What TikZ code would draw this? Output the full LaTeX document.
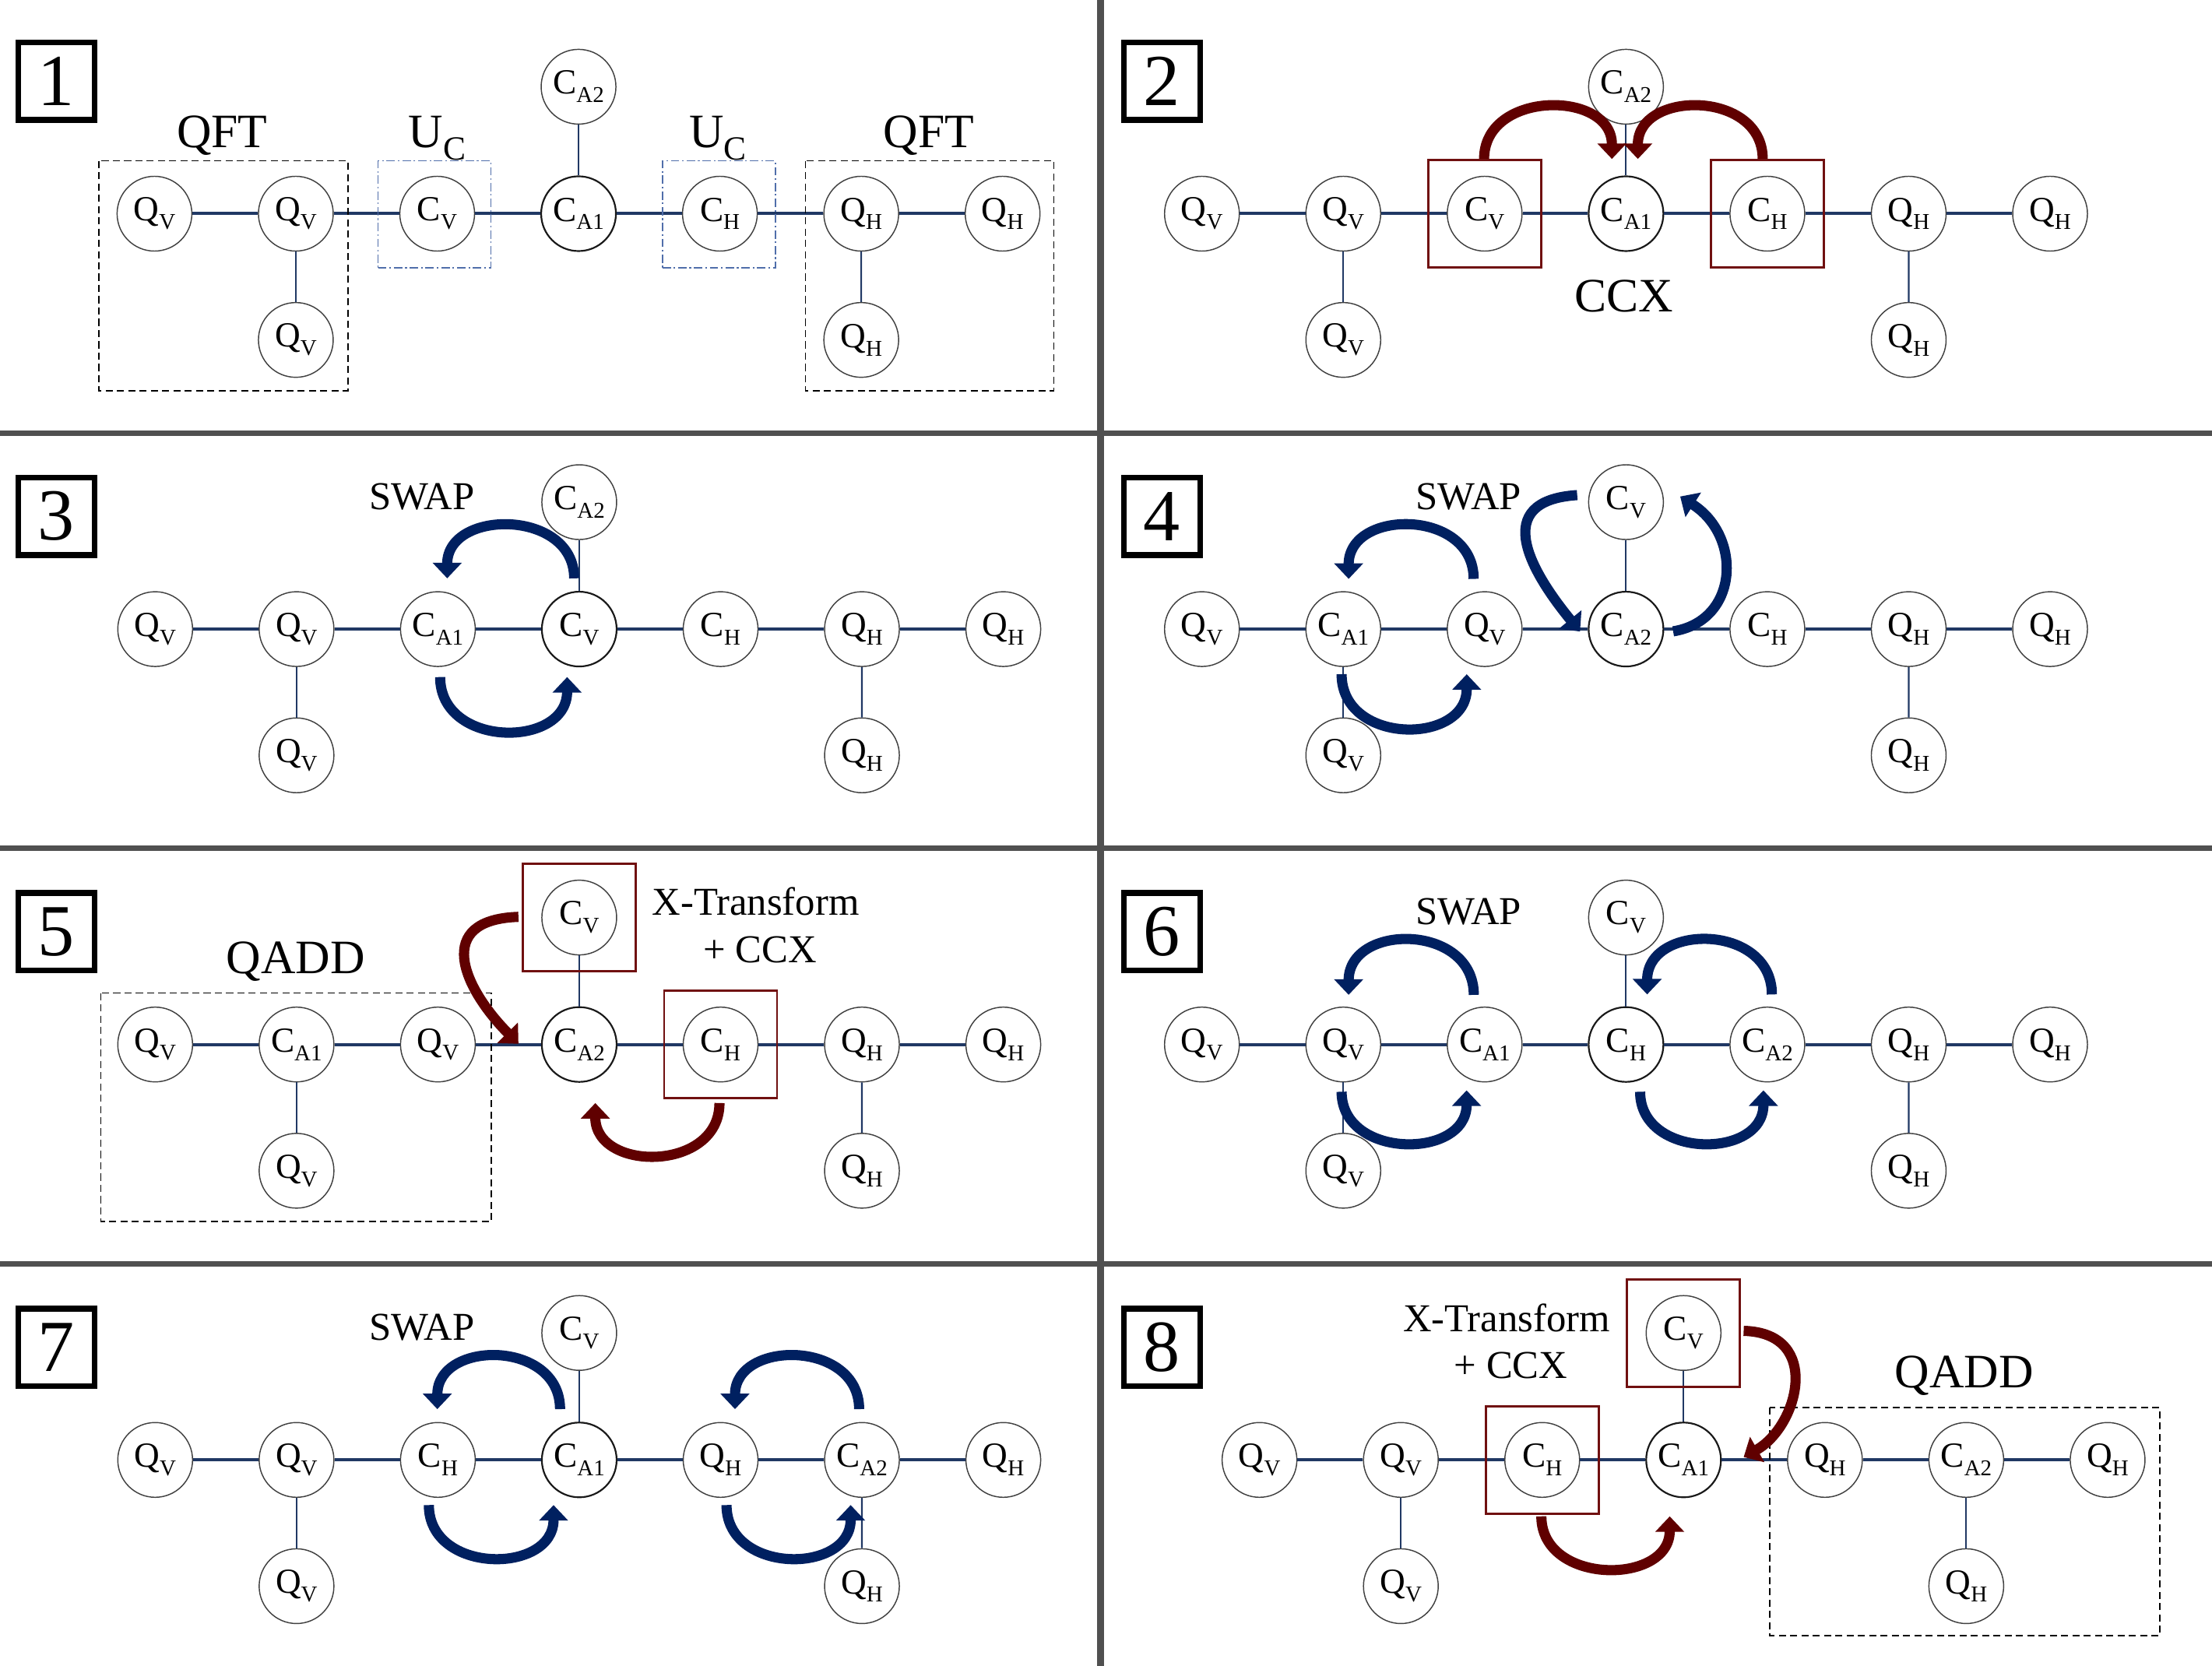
\documentclass[tikz,border=0pt]{standalone}
\usepackage{fontspec}
\setmainfont{Liberation Serif}
\usetikzlibrary{arrows.meta}
\definecolor{lnblue}{RGB}{32,56,100}
\definecolor{swapblue}{RGB}{0,32,96}
\definecolor{ccxred}{RGB}{96,0,0}
\definecolor{boxred}{RGB}{112,16,16}
\definecolor{ucblue}{RGB}{80,110,170}
\definecolor{divgray}{RGB}{80,80,80}
\newcommand\nl[2]{#1\raisebox{-3pt}{\fontsize{8}{8}\selectfont #2}}
\newcommand\uc{U\raisebox{-4.4pt}{\fontsize{12}{12}\selectfont C}}
\tikzset{
  qn/.style={circle, draw=black!75, line width=0.4pt, fill=white, minimum size=26.5pt, inner sep=0pt, font=\fontsize{12.5}{12.5}\selectfont},
  qc/.style={qn, line width=0.6pt, draw=black!90},
  hl/.style={draw=lnblue, line width=1.1pt},
  vl/.style={draw=lnblue, line width=0.6pt},
  swaparr/.style={draw=swapblue, line width=3.6pt, -{Triangle[width=10pt,length=5.5pt]}},
  ccxarr/.style={swaparr, draw=ccxred},
  redbox/.style={draw=boxred, line width=0.8pt, minimum width=40pt, minimum height=38pt, inner sep=0pt},
  ucbox/.style={draw=ucblue, line width=0.5pt, dash pattern=on 3pt off 1pt on 0.6pt off 1pt, minimum width=40pt, minimum height=38pt, inner sep=0pt},
  grpbox/.style={draw=black, line width=0.5pt, dash pattern=on 2.5pt off 1.5pt},
  numbox/.style={draw=black, line width=2pt, minimum width=27pt, minimum height=27.5pt, inner sep=0pt, font=\fontsize{26}{26}\selectfont},
  lbig/.style={anchor=base, inner sep=0pt, font=\fontsize{17}{17}\selectfont},
  lmid/.style={anchor=base, inner sep=0pt, font=\fontsize{14}{14}\selectfont},
  divider/.style={draw=divgray, line width=2pt}
}
\newcommand\drawpanel[9]{%
  \foreach \lab [count=\i] in {#4}
    \node[qn] (#1\i) at ({#2+100.2*(\i-1)},#3) {\lab};
  \node[qc] (#14) at ({#2+300.6},#3) {#5};
  \foreach \lab [count=\i from 5] in {#6}
    \node[qn] (#1\i) at ({#2+100.2*(\i-1)},#3) {\lab};
  \node[qn] (#1t) at ({#2+300.6},{#3-90}) {#7};
  \node[qn] (#1a) at ({#2+100.2},{#3+89.5}) {#8};
  \node[qn] (#1b) at ({#2+501},{#3+89.5}) {#9};
  \foreach \i [evaluate=\i as \j using int(\i+1)] in {1,...,6}
    \draw[hl] (#1\i) -- (#1\j);
  \draw[vl] (#1t) -- (#14);
  \draw[vl] (#12) -- (#1a);
  \draw[vl] (#16) -- (#1b);
}
\begin{document}
\begin{tikzpicture}[x=0.5pt,y=-0.5pt]
\useasboundingbox[fill=white] (0,0) rectangle (1568,1181);
% dividers
\draw[divider, line width=2.5pt] (780,0) -- (780,1181);
\draw[divider] (0,307) -- (1568,307);
\draw[divider] (0,601.5) -- (1568,601.5);
\draw[divider] (0,896) -- (1568,896);

% number boxes
\node[numbox] (n1) at (40,57.5) {1};
\node[numbox] (n2) at (823.7,57.5) {2};
\node[numbox] (n3) at (40,366) {3};
\node[numbox] (n4) at (823.7,366) {4};
\node[numbox] (n5) at (40,660.5) {5};
\node[numbox] (n6) at (823.7,660.5) {6};
\node[numbox] (n7) at (40,955.3) {7};
\node[numbox] (n8) at (823.7,955.3) {8};

% ---------- panel 1
\drawpanel{A}{109.5}{151.5}{\nl{Q}{V},\nl{Q}{V},\nl{C}{V}}{\nl{C}{A1}}{\nl{C}{H},\nl{Q}{H},\nl{Q}{H}}{\nl{C}{A2}}{\nl{Q}{V}}{\nl{Q}{H}}
\draw[grpbox] (70,114) rectangle (246.5,277);
\draw[grpbox] (571,114) rectangle (747,277);
\node[ucbox] (A3u) at (308,152) {};
\node[ucbox] (A5u) at (509.5,152) {};
\node[lbig] (A-qft1) at (157.5,104.5) {QFT};
\node[lbig] (A-qft2) at (658.4,104.5) {QFT};
\node[lbig] (A-uc1) at (310,104.5) {\uc};
\node[lbig] (A-uc2) at (509,104.5) {\uc};

% ---------- panel 2
\drawpanel{B}{852}{151.5}{\nl{Q}{V},\nl{Q}{V},\nl{C}{V}}{\nl{C}{A1}}{\nl{C}{H},\nl{Q}{H},\nl{Q}{H}}{\nl{C}{A2}}{\nl{Q}{V}}{\nl{Q}{H}}
\node[redbox] (B3r) at (B3) {};
\node[redbox] (B5r) at (B5) {};
\node[lbig] (B-ccx) at (1151,220.8) {CCX};
\draw[ccxarr] (1052,112.7) .. controls (1052,63.7) and (1142.6,63.7) .. (1142.6,112.7);
\draw[ccxarr] (1249.5,112.7) .. controls (1249.5,63.7) and (1161,63.7) .. (1161,112.7);

% ---------- panel 3
\drawpanel{C}{110}{446}{\nl{Q}{V},\nl{Q}{V},\nl{C}{A1}}{\nl{C}{V}}{\nl{C}{H},\nl{Q}{H},\nl{Q}{H}}{\nl{C}{A2}}{\nl{Q}{V}}{\nl{Q}{H}}
\node[lmid] (C-swap) at (299,361) {SWAP};
\draw[swaparr] (407,410) .. controls (407,360.7) and (317,360.7) .. (317,410);
\draw[swaparr] (312,480) .. controls (312,530.7) and (402,530.7) .. (402,480);

% ---------- panel 4
\drawpanel{D}{852}{446}{\nl{Q}{V},\nl{C}{A1},\nl{Q}{V}}{\nl{C}{A2}}{\nl{C}{H},\nl{Q}{H},\nl{Q}{H}}{\nl{C}{V}}{\nl{Q}{V}}{\nl{Q}{H}}
\node[lmid] (D-swap) at (1041,361) {SWAP};
\draw[swaparr] (1044.6,410.4) .. controls (1044.6,360.5) and (956,360.5) .. (956,410.4);
\draw[swaparr] (951,478) .. controls (951,528.4) and (1039.7,528.4) .. (1039.7,478);
\draw[swaparr] (1118,351) .. controls (1056,355) and (1085,405) .. (1120,447.7);
\draw[swaparr] (1186,447.6) .. controls (1233,440) and (1235,380) .. (1191,352);

% ---------- panel 5
\drawpanel{E}{110}{740.5}{\nl{Q}{V},\nl{C}{A1},\nl{Q}{V}}{\nl{C}{A2}}{\nl{C}{H},\nl{Q}{H},\nl{Q}{H}}{\nl{C}{V}}{\nl{Q}{V}}{\nl{Q}{H}}
\node[redbox] (Etr) at (Et) {};
\node[redbox] (E5r) at (E5) {};
\draw[grpbox] (71.5,704) rectangle (348.4,866);
\node[lbig] (E-qadd) at (209.5,690) {QADD};
\node[lmid] (E-xt) at (535.7,649) {X-Transform};
\node[lmid] (E-ccx) at (538.9,682.4) {+ CCX};
\draw[ccxarr] (367.5,650) .. controls (307,652) and (328,700) .. (367.5,740);
\draw[ccxarr] (510,782) .. controls (510,831) and (422,831) .. (422,782);

% ---------- panel 6
\drawpanel{F}{852}{740.5}{\nl{Q}{V},\nl{Q}{V},\nl{C}{A1}}{\nl{C}{H}}{\nl{C}{A2},\nl{Q}{H},\nl{Q}{H}}{\nl{C}{V}}{\nl{Q}{V}}{\nl{Q}{H}}
\node[lmid] (F-swap) at (1041,655.4) {SWAP};
\draw[swaparr] (1044.7,705.3) .. controls (1044.7,654.3) and (956,654.3) .. (956,705.3);
\draw[swaparr] (951,774) .. controls (951,822) and (1039.6,822) .. (1039.6,773);
\draw[swaparr] (1256,705) .. controls (1256,654.3) and (1167.6,654.3) .. (1167.6,705);
\draw[swaparr] (1162.6,774) .. controls (1162.6,822) and (1250,822) .. (1250,773);

% ---------- panel 7
\drawpanel{G}{110}{1035}{\nl{Q}{V},\nl{Q}{V},\nl{C}{H}}{\nl{C}{A1}}{\nl{Q}{H},\nl{C}{A2},\nl{Q}{H}}{\nl{C}{V}}{\nl{Q}{V}}{\nl{Q}{H}}
\node[lmid] (G-swap) at (299,950) {SWAP};
\draw[swaparr] (397,999) .. controls (397,949.7) and (310,949.7) .. (310,999);
\draw[swaparr] (304,1067) .. controls (304,1116.3) and (392.4,1116.3) .. (392.4,1067);
\draw[swaparr] (609,999) .. controls (609,949.7) and (521,949.7) .. (521,999);
\draw[swaparr] (515,1067) .. controls (515,1116.3) and (603,1116.3) .. (603,1067);

% ---------- panel 8
\drawpanel{H}{892.8}{1035}{\nl{Q}{V},\nl{Q}{V},\nl{C}{H}}{\nl{C}{A1}}{\nl{Q}{H},\nl{C}{A2},\nl{Q}{H}}{\nl{C}{V}}{\nl{Q}{V}}{\nl{Q}{H}}
\node[redbox] (Htr) at (Ht) {};
\node[redbox] (H3r) at (H3) {};
\draw[grpbox] (1254.5,998) rectangle (1531,1159.5);
\node[lbig] (H-qadd) at (1392.4,984) {QADD};
\node[lmid] (H-xt) at (1068,943.8) {X-Transform};
\node[lmid] (H-ccx) at (1071,977.4) {+ CCX};
\draw[ccxarr] (1236,943.5) .. controls (1292,945) and (1275,1011) .. (1236,1033);
\draw[ccxarr] (1092.6,1075) .. controls (1092.6,1124) and (1183.6,1124) .. (1183.6,1075);
\end{tikzpicture}
\end{document}
